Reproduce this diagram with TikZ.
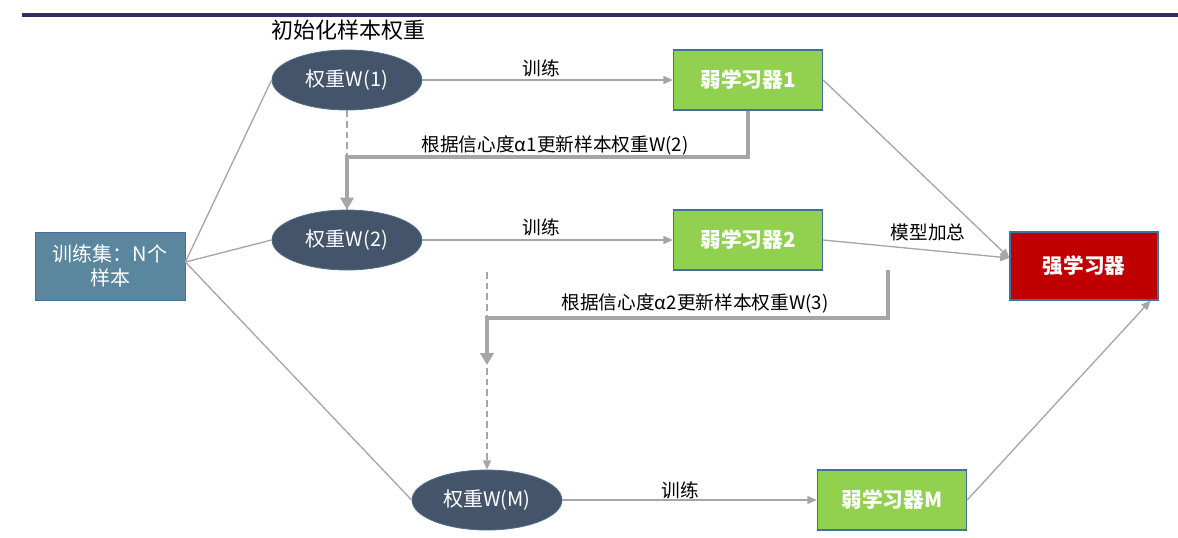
\documentclass[tikz,border=0pt]{standalone}
\usepackage{fontspec}
\newfontfamily\cjk{Noto Sans CJK SC}
\usetikzlibrary{shapes.geometric,arrows.meta}
\definecolor{navy}{RGB}{46,48,100}
\definecolor{slate}{RGB}{68,84,106}
\definecolor{slateedge}{RGB}{80,110,140}
\definecolor{leaf}{RGB}{146,208,80}
\definecolor{boxedge}{RGB}{65,113,156}
\definecolor{steel}{RGB}{90,134,158}
\definecolor{darkred}{RGB}{192,0,0}
\definecolor{conngray}{RGB}{166,166,166}
\tikzset{
  wnode/.style={ellipse, fill=slate, draw=slateedge, line width=0.6pt, minimum width=112.5pt, minimum height=45pt, inner sep=0pt, text=white, font=\cjk\fontsize{15}{17}\selectfont},
  lnode/.style={rectangle, fill=leaf, draw=boxedge, line width=0.8pt, minimum width=112pt, minimum height=45pt, inner sep=0pt, text=white, font=\cjk\bfseries\fontsize{15.5}{17}\selectfont},
  trainbox/.style={rectangle, fill=steel, draw=boxedge, line width=0.6pt, minimum width=112.5pt, minimum height=51pt, inner sep=0pt, text=white, align=center, font=\cjk\fontsize{15}{18}\selectfont},
  strongbox/.style={rectangle, fill=darkred, draw=boxedge, line width=0.8pt, minimum width=111pt, minimum height=51pt, inner sep=0pt, text=white, font=\cjk\bfseries\fontsize{15.5}{17}\selectfont},
  lbl/.style={font=\cjk\fontsize{14}{16}\selectfont, text=black, inner sep=1pt},
  conn/.style={draw=conngray, line width=1pt},
  connarrow/.style={conn, -{Triangle[length=7pt,width=6pt]}},
  fb/.style={draw=conngray, line width=3pt, -{Triangle[length=9pt,width=10pt]}},
  dashline/.style={draw=conngray, line width=1pt, dash pattern=on 5pt off 3pt},
}
\begin{document}
\begin{tikzpicture}[x=0.75pt,y=-0.75pt]
\useasboundingbox (0,0) rectangle (1178,537);
\draw[navy, line width=2.5pt] (22,15) -- (1178,15);

\node[lbl, font=\cjk\fontsize{16.5}{18}\selectfont] (title) at (348,30) {初始化样本权重};

\node[wnode] (w1) at (347,80) {权重W(1)};
\node[lnode] (l1) at (748,80) {弱学习器1};
\node[wnode] (w2) at (347,240) {权重W(2)};
\node[lnode] (l2) at (748,240) {弱学习器2};
\node[wnode] (wm) at (487,500) {权重W(M)};
\node[lnode] (lm) at (892,500) {弱学习器M};

\node[trainbox] (train) at (110,266) {训练集：N个\\样本};
\node[strongbox] (strong) at (1084,266) {强学习器};

% training arrows
\draw[connarrow] (w1.east) -- (l1.west);
\node[lbl] (t1) at (541,68) {训练};
\draw[connarrow] (w2.east) -- (l2.west);
\node[lbl] (t2) at (541,227) {训练};
\draw[connarrow] (wm.east) -- (lm.west);
\node[lbl] (t3) at (680,490) {训练};

% training set to weights
\draw[conn] ([yshift=3pt]train.east) -- (w1.west);
\draw[conn] ([yshift=3pt]train.east) -- (w2.west);
\draw[conn] ([yshift=3pt]train.east) -- (wm.west);

% weak learners to strong learner
\draw[connarrow] (l1.east) -- ([yshift=6pt]strong.west);
\draw[connarrow] (l2.east) -- ([yshift=6pt]strong.west);
\draw[connarrow] (lm.east) -- ([xshift=-6pt]strong.south east);
\node[lbl] (sum) at (928,232) {模型加总};

% first update
\draw[dashline] (w1.south) -- (w2.north);
\coordinate (fb1) at (347,157);
\draw[fb] (l1.south) |- (fb1) -- (w2.north);
\node[lbl] (u1) at (555,145) {根据信心度α1更新样本权重W(2)};

% second update
\coordinate (fb2s) at (888,270);
\coordinate (fb2c) at (487,318);
\coordinate (fb2e) at (487,365);
\coordinate (d2s) at (487,272);
\draw[dashline, -{Triangle[length=7pt,width=6pt]}] (d2s) -- (wm.north);
\draw[fb] (fb2s) |- (fb2c) -- (fb2e);
\node[lbl] (u2) at (695,303) {根据信心度α2更新样本权重W(3)};
\end{tikzpicture}
\end{document}
